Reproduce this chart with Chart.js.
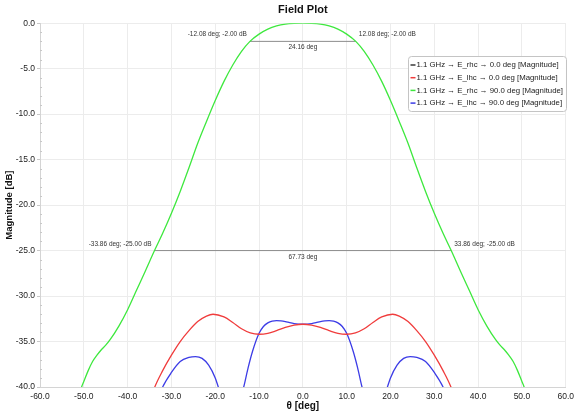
<!DOCTYPE html>
<html>
<head>
<meta charset="utf-8">
<script src="https://cdn.jsdelivr.net/npm/chart.js@4"></script>
<style>
  html, body { margin: 0; padding: 0; background: #fff; }
  #wrap { width: 577px; height: 416px; }
</style>
</head>
<body>
<div id="wrap"><canvas id="fieldChart" width="577" height="416"></canvas></div>
<script>
// theta [deg] and magnitude [dB]
const rhc0Theta = [];
const rhc0Mag = [];

const lhc0Theta = [-34.5, -33.8, -32, -30, -28, -26, -24, -22, -20.5, -18, -16, -14, -12, -10, -8, -6, -4, -2, 0,
  2, 4, 6, 8, 10, 12, 14, 16, 18, 20.5, 22, 24, 26, 28, 30, 32, 33.8, 34.5];
const lhc0Mag = [-41, -40, -38.2, -36.5, -35.0, -33.8, -32.8, -32.2, -32.0, -32.3, -32.9, -33.6, -34.05, -34.2, -34.1, -33.8, -33.45, -33.2, -33.1,
  -33.2, -33.45, -33.8, -34.1, -34.2, -34.05, -33.6, -32.9, -32.3, -32.0, -32.2, -32.8, -33.8, -35.0, -36.5, -38.2, -40, -41];

const rhc90Theta = [-51, -50.5, -50, -49, -48, -47, -46, -45, -44, -42, -40, -38, -36, -33.86, -32, -30, -28, -26, -24, -22, -20, -18, -16, -14, -12.08, -10, -8, -6, -4, -2, 0,
  2, 4, 6, 8, 10, 12.08, 14, 16, 18, 20, 22, 24, 26, 28, 30, 32, 33.86, 36, 38, 40, 42, 44, 45, 46, 47, 48, 49, 50, 50.5, 51];
const rhc90Mag = [-41, -40, -39.4, -38.2, -37.2, -36.5, -35.9, -35.4, -34.8, -33.3, -31.5, -29.4, -27.3, -25.0, -23.1, -20.9, -18.5, -15.9, -13.2, -10.8, -8.5, -6.4, -4.6, -3.1, -2.0, -1.2, -0.65, -0.3, -0.1, -0.02, 0,
  -0.02, -0.1, -0.3, -0.65, -1.2, -2.0, -3.1, -4.6, -6.4, -8.5, -10.8, -13.2, -15.9, -18.5, -20.9, -23.1, -25.0, -27.3, -29.4, -31.5, -33.3, -34.8, -35.4, -35.9, -36.5, -37.2, -38.2, -39.4, -40, -41];

// three separate lobes, null breaks the line
const lhc90Theta = [-32.8, -32.0, -30, -28, -26, -24.5, -23, -21.5, -20, -19.3, -18.8, null,
  -14.2, -13.5, -12.5, -11.5, -10, -9, -8, -7, -6, -5, -4, -3, -2, -1, 0, 1, 2, 3, 4, 5, 6, 7, 8, 9, 10, 11.5, 12.5, 13.5, 14.2, null,
  18.8, 19.3, 20, 21.5, 23, 24.5, 26, 28, 30, 32.0, 32.8];
const lhc90Mag = [-41, -40, -38.4, -37.2, -36.75, -36.65, -36.85, -37.6, -39.0, -40, -40.8, null,
  -41.2, -40, -37.9, -36.1, -34.1, -33.35, -32.95, -32.75, -32.7, -32.72, -32.8, -32.92, -33.02, -33.08, -33.1, -33.08, -33.02, -32.92, -32.8, -32.72, -32.7, -32.75, -32.95, -33.35, -34.1, -36.1, -37.9, -40, -41.2, null,
  -40.8, -40, -39.0, -37.6, -36.85, -36.65, -36.75, -37.2, -38.4, -40, -41];

// beamwidth cuts
const cutLevels = [-2, -25];
const cutLeft = [-12.08, -33.86];
const cutRight = [12.08, 33.86];
const cutWidths = ['24.16 deg', '67.73 deg'];

const xTicks = [-60, -50, -40, -30, -20, -10, 0, 10, 20, 30, 40, 50, 60];

const FONT = "'Liberation Sans', Arial, sans-serif";

function pts(xs, ys) {
  return xs.map((x, i) => (x === null ? { x: NaN, y: null } : { x: x, y: ys[i] }));
}

const series = [
  { label: '1.1 GHz \u2192 E_rhc \u2192 0.0 deg [Magnitude]', data: pts(rhc0Theta, rhc0Mag), borderColor: '#3a3a3a' },
  { label: '1.1 GHz \u2192 E_lhc \u2192 0.0 deg [Magnitude]', data: pts(lhc0Theta, lhc0Mag), borderColor: '#f03c3c' },
  { label: '1.1 GHz \u2192 E_rhc \u2192 90.0 deg [Magnitude]', data: pts(rhc90Theta, rhc90Mag), borderColor: '#3ee83e' },
  { label: '1.1 GHz \u2192 E_lhc \u2192 90.0 deg [Magnitude]', data: pts(lhc90Theta, lhc90Mag), borderColor: '#3c3ce6' }
];

const cutSets = cutLevels.map((lvl, i) => ({
  label: '',
  data: [{ x: cutLeft[i], y: lvl }, { x: cutRight[i], y: lvl }],
  borderColor: '#8c8c8c',
  borderWidth: 1,
  tension: 0
}));

// labels on the cuts, minor ticks and the boxed legend
const extras = {
  id: 'extras',
  afterDatasetsDraw(chart) {
    const { ctx, chartArea, scales: { x, y } } = chart;
    ctx.save();

    // minor ticks on the magnitude axis
    ctx.strokeStyle = '#c8c8c8';
    ctx.lineWidth = 1;
    for (let v = 0; v >= -40; v--) {
      if (v % 5 === 0) continue;
      const py = Math.round(y.getPixelForValue(v)) + 0.5;
      ctx.beginPath();
      ctx.moveTo(chartArea.left, py);
      ctx.lineTo(chartArea.left + 2, py);
      ctx.stroke();
    }

    ctx.fillStyle = '#333';
    ctx.font = '6.5px ' + FONT;
    cutLevels.forEach((lvl, i) => {
      const py = y.getPixelForValue(lvl);
      const xl = x.getPixelForValue(cutLeft[i]);
      const xr = x.getPixelForValue(cutRight[i]);
      ctx.textBaseline = 'alphabetic';
      ctx.textAlign = 'right';
      ctx.fillText(cutLeft[i].toFixed(2) + ' deg; ' + lvl.toFixed(2) + ' dB', xl - 3, py - 5);
      ctx.textAlign = 'left';
      ctx.fillText(cutRight[i].toFixed(2) + ' deg; ' + lvl.toFixed(2) + ' dB', xr + 3, py - 5);
      ctx.textAlign = 'center';
      ctx.textBaseline = 'top';
      ctx.fillText(cutWidths[i], (xl + xr) / 2, py + 3);
    });

    // legend box
    const bx = 408.5, by = 56.5, bw = 158, bh = 55;
    ctx.fillStyle = 'rgba(255,255,255,0.95)';
    ctx.strokeStyle = '#c4c4c4';
    ctx.beginPath();
    ctx.roundRect(bx, by, bw, bh, 3);
    ctx.fill();
    ctx.stroke();
    ctx.font = '7.8px ' + FONT;
    ctx.textAlign = 'left';
    ctx.textBaseline = 'middle';
    series.forEach((s, i) => {
      const cy = by + 8.5 + i * 12.7;
      ctx.strokeStyle = s.borderColor;
      ctx.lineWidth = 1.5;
      ctx.beginPath();
      ctx.moveTo(bx + 2, cy);
      ctx.lineTo(bx + 7, cy);
      ctx.stroke();
      ctx.fillStyle = '#222';
      ctx.fillText(s.label, bx + 8, cy);
    });
    ctx.restore();
  }
};

new Chart(document.getElementById('fieldChart'), {
  type: 'scatter',
  data: {
    datasets: series.map(s => Object.assign({ borderWidth: 1.3, tension: 0.4, cubicInterpolationMode: 'monotone' }, s))
      .concat(cutSets)
      .map(d => Object.assign({ showLine: true, pointRadius: 0, fill: false, spanGaps: false }, d))
  },
  options: {
    responsive: false,
    animation: false,
    layout: { padding: { left: 0, right: 8, top: 0, bottom: 0 } },
    plugins: {
      legend: { display: false },
      tooltip: { enabled: false },
      title: {
        display: true,
        text: 'Field Plot',
        fullSize: false,
        color: '#111',
        font: { family: FONT, size: 11, weight: 'bold' },
        padding: { top: 3, bottom: 7 }
      }
    },
    scales: {
      x: {
        type: 'linear',
        min: -60,
        max: 60,
        afterBuildTicks: s => { s.ticks = xTicks.map(v => ({ value: v })); },
        afterFit: s => { s.height = 29; },
        ticks: {
          color: '#222',
          font: { family: FONT, size: 8.5 },
          padding: 3,
          callback: v => v.toFixed(1)
        },
        grid: { color: '#ececec', tickLength: 2, tickColor: 'transparent' },
        border: { color: '#d4d4d4' },
        title: {
          display: true,
          text: '\u03b8 [deg]',
          color: '#111',
          font: { family: FONT, size: 10, weight: 'bold' },
          padding: { top: 0, bottom: 4 }
        }
      },
      y: {
        min: -40,
        max: 0,
        afterFit: s => { s.width = 40; },
        ticks: {
          stepSize: 5,
          color: '#222',
          font: { family: FONT, size: 8.5 },
          padding: 2,
          callback: v => v.toFixed(1)
        },
        grid: { color: '#ececec', tickLength: 3, tickColor: '#c8c8c8' },
        border: { color: '#d4d4d4' },
        title: {
          display: true,
          text: 'Magnitude [dB]',
          color: '#111',
          font: { family: FONT, size: 9.5, weight: 'bold' },
          padding: { top: 4, bottom: 0 }
        }
      }
    }
  },
  plugins: [extras]
});
</script>
</body>
</html>
